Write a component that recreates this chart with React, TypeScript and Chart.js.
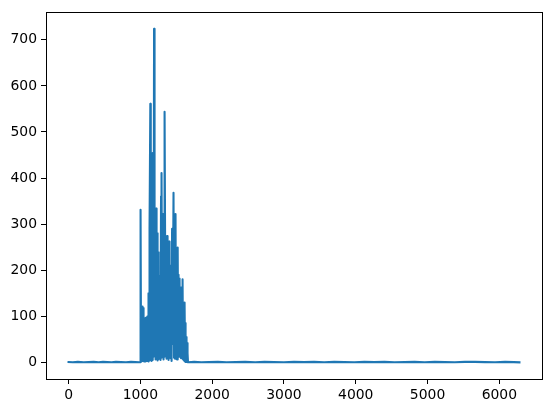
import React, { useEffect, useRef } from "react";
import { Chart, registerables } from "chart.js";

Chart.register(...registerables);

// Sample positions (x) and values (y)
const baseStartX = [0, 60, 130, 210, 280, 350, 420, 480, 540, 600, 660, 730, 800, 870, 930, 985];
const baseStartY = [0.5, 0, 1, 0, 0.5, 1, 0, 1, 0.5, 0, 1, 0.5, 0, 1, 0.5, 0];

const burstX = [
  996, 1003, 1010, 1014, 1017, 1020, 1024, 1027, 1031, 1034, 1038, 1041, 1045, 1048, 1052, 1055,
  1059, 1062, 1065, 1069, 1072, 1076, 1079, 1083, 1086, 1090, 1093, 1097, 1100, 1104, 1107, 1110,
  1114, 1117, 1121, 1124, 1128, 1132, 1139, 1145, 1149, 1156, 1167, 1172, 1177, 1184, 1191, 1198,
  1205, 1212, 1219, 1226, 1233, 1240, 1247, 1254, 1260, 1267, 1274, 1281, 1288, 1292, 1298, 1305,
  1316, 1323, 1330, 1335, 1340, 1351, 1358, 1365, 1372, 1379, 1386, 1393, 1400, 1407, 1414, 1421,
  1428, 1435, 1442, 1450, 1462, 1469, 1476, 1483, 1490, 1497, 1504, 1511, 1520, 1527, 1532, 1539,
  1546, 1553, 1560, 1567, 1574, 1581, 1588, 1595, 1602, 1609, 1612, 1616, 1620, 1623, 1627, 1630,
  1633, 1636, 1640, 1643, 1647, 1650, 1654, 1657, 1661, 1664,
];
const burstY = [
  0, 331, 4, 104, 2, 110, 6, 121, 3, 115, 3, 118, 8, 100, 2, 95,
  5, 90, 2, 92, 4, 96, 5, 98, 3, 85, 3, 88, 4, 100, 6, 105,
  2, 150, 4, 240, 5, 290, 561, 8, 380, 3, 454, 5, 310, 12, 724, 25,
  300, 6, 334, 9, 280, 4, 239, 7, 188, 20, 170, 5, 360, 10, 411, 28,
  322, 6, 300, 12, 544, 30, 243, 8, 274, 14, 230, 5, 262, 25, 210, 9,
  195, 3, 290, 40, 368, 10, 240, 8, 322, 15, 200, 6, 249, 20, 190, 12,
  182, 40, 150, 9, 163, 15, 180, 6, 109, 4, 120, 3, 130, 2, 85, 1,
  63, 3, 55, 1, 48, 2, 42, 1, 20, 0,
];

const baseEndX = [
  1672, 1750, 1850, 1950, 2080, 2200, 2330, 2460, 2600, 2730, 2860, 3000, 3140, 3280, 3420, 3560,
  3700, 3840, 3980, 4120, 4260, 4400, 4540, 4680, 4820, 4960, 5100, 5240, 5380, 5520, 5660, 5800,
  5940, 6080, 6200, 6280,
];
const baseEndY = [
  0, 1, 0, 0.5, 1, 0, 0.5, 1, 0, 1, 0.5, 0, 1, 0.5, 1, 0,
  1, 0.5, 0, 1, 0.5, 1, 0, 0.5, 1, 0, 1, 0.5, 0, 1, 1, 0.5,
  0, 1, 0.5, 0,
];

const xTicks = [0, 1000, 2000, 3000, 4000, 5000, 6000];
const yTicks = [0, 100, 200, 300, 400, 500, 600, 700];

const xs = [...baseStartX, ...burstX, ...baseEndX];
const ys = [...baseStartY, ...burstY, ...baseEndY];

const boxPlugin = {
  id: "box",
  afterDraw(chart: any) {
    const { ctx, chartArea } = chart;
    ctx.save();
    ctx.strokeStyle = "#000";
    ctx.lineWidth = 1;
    ctx.strokeRect(
      Math.round(chartArea.left) + 0.5,
      Math.round(chartArea.top) + 0.5,
      Math.round(chartArea.right - chartArea.left),
      Math.round(chartArea.bottom - chartArea.top)
    );
    ctx.restore();
  },
};

export default function App() {
  const ref = useRef<HTMLCanvasElement>(null);
  useEffect(() => {
    if (!ref.current) return;
    const font = { family: "DejaVu Sans", size: 13.9 };
    const chart = new Chart(ref.current, {
      type: "line",
      data: {
        datasets: [
          {
            data: xs.map((x, i) => ({ x, y: ys[i] })),
            borderColor: "#1f77b4",
            borderWidth: 2.08,
            pointRadius: 0,
            tension: 0,
            fill: false,
            borderJoinStyle: "round",
            borderCapStyle: "square",
          },
        ],
      },
      options: {
        animation: false,
        responsive: false,
        maintainAspectRatio: false,
        layout: { padding: { top: 10, right: 10, left: 0, bottom: 0 } },
        plugins: { legend: { display: false }, tooltip: { enabled: false } },
        scales: {
          x: {
            type: "linear",
            min: -314,
            max: 6594,
            grid: { drawOnChartArea: false, drawTicks: true, tickLength: 5, tickColor: "#000" },
            border: { display: false },
            ticks: { color: "#000", font, padding: 3, maxRotation: 0, callback: (v: any) => String(v) },
            afterBuildTicks: (s: any) => {
              s.ticks = xTicks.map((v) => ({ value: v }));
            },
            afterFit: (s: any) => {
              s.height = 34;
            },
          },
          y: {
            type: "linear",
            min: -36.2,
            max: 759.7,
            grid: { drawOnChartArea: false, drawTicks: true, tickLength: 5, tickColor: "#000" },
            border: { display: false },
            ticks: { color: "#000", font, padding: 4, callback: (v: any) => String(v) },
            afterBuildTicks: (s: any) => {
              s.ticks = yTicks.map((v) => ({ value: v }));
            },
            afterFit: (s: any) => {
              s.width = 46;
            },
          },
        },
      },
      plugins: [boxPlugin],
    });
    return () => chart.destroy();
  }, []);
  return (
    <div style={{ position: "absolute", left: 0, top: 0, width: 552, height: 413, background: "#fff" }}>
      <canvas ref={ref} width={552} height={413} style={{ width: 552, height: 413 }} />
    </div>
  );
}
